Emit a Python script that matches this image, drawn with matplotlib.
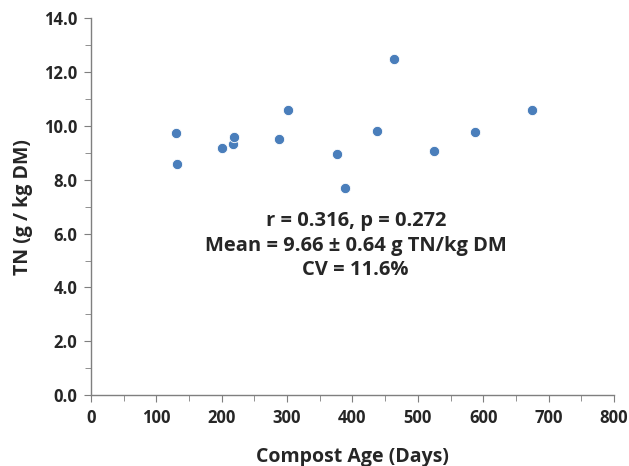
import numpy as np
import matplotlib.pyplot as plt
from matplotlib.ticker import MultipleLocator

# compost age (days) and total nitrogen (g / kg DM)
age = [130, 131, 200, 217, 219, 287, 301, 376, 388, 437, 463, 524, 587, 674]
tn = [9.74, 8.59, 9.18, 9.33, 9.59, 9.52, 10.6, 8.96, 7.70, 9.81, 12.49, 9.07, 9.78, 10.6]

stats_text = 'r = 0.316, p = 0.272\nMean = 9.66 \u00b1 0.64 g TN/kg DM\nCV = 11.6%'

plt.rcParams['font.family'] = ['Open Sans', 'DejaVu Sans']
plt.rcParams['font.weight'] = 'bold'

fig = plt.figure(figsize=(6.29, 4.66), dpi=100)
ax = fig.add_axes([0.1447, 0.152, 0.8313, 0.809])

ax.scatter(age, tn, s=55, color='#4a7ebb', edgecolors='white', linewidths=0.6, zorder=3)

ax.set_xlim(0, 800)
ax.set_ylim(0, 14)
ax.xaxis.set_major_locator(MultipleLocator(100))
ax.xaxis.set_minor_locator(MultipleLocator(50))
ax.yaxis.set_major_locator(MultipleLocator(2))
ax.yaxis.set_minor_locator(MultipleLocator(1))
ax.yaxis.set_major_formatter('{x:.1f}')

for s in ['top', 'right']:
    ax.spines[s].set_visible(False)
for s in ['left', 'bottom']:
    ax.spines[s].set_color('#7f7f7f')
    ax.spines[s].set_linewidth(1.0)

ax.tick_params(which='both', direction='out', color='#7f7f7f', labelsize=12, labelcolor='#262626')
ax.tick_params(which='major', length=5, pad=5)
ax.tick_params(which='minor', length=4)
for lab in ax.get_xticklabels() + ax.get_yticklabels():
    lab.set_fontweight('bold')

ax.set_xlabel('Compost Age (Days)', fontsize=14, fontweight='bold', color='#262626', labelpad=14)
ax.set_ylabel('TN (g / kg DM)', fontsize=14, fontweight='bold', color='#262626', labelpad=8)

ax.text(405, 5.55, stats_text, ha='center', va='center', fontsize=14.5, fontweight='bold',
        color='#262626', linespacing=1.3)

fig.savefig('out.png', dpi=100)
